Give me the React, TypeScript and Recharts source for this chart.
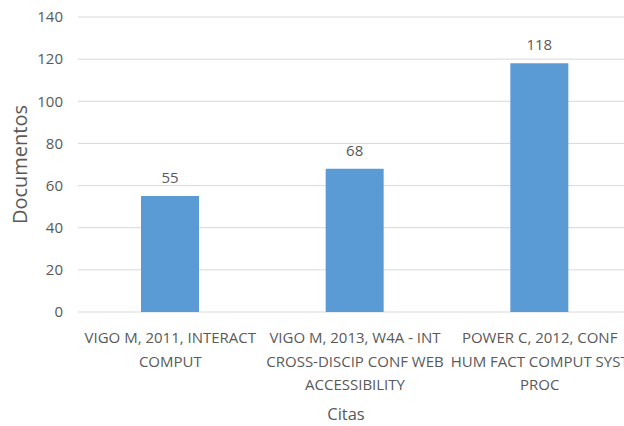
import { Bar, BarChart, CartesianGrid, LabelList, XAxis, YAxis } from "recharts";

const categories = ["VIGO M, 2011, INTERACT COMPUT", "VIGO M, 2013, W4A - INT CROSS-DISCIP CONF WEB ACCESSIBILITY", "POWER C, 2012, CONF HUM FACT COMPUT SYST PROC"];
const categoryLines = [
  ["VIGO M, 2011, INTERACT", "COMPUT"],
  ["VIGO M, 2013, W4A - INT", "CROSS-DISCIP CONF WEB", "ACCESSIBILITY"],
  ["POWER C, 2012, CONF", "HUM FACT COMPUT SYST", "PROC"],
];
const documentos = [55, 68, 118];
const yTicks = [0, 20, 40, 60, 80, 100, 120, 140];

const data = categories.map((c, i) => ({ name: c, documentos: documentos[i] }));

const FONT = "'Open Sans', sans-serif";
const GREY = "#595959";

function CategoryTick(props: any) {
  const { x, y, index } = props;
  const lines = categoryLines[index] || [];
  return (
    <g>
      {lines.map((line, i) => (
        <text
          key={i}
          x={x}
          y={y + 17 + i * 23.5}
          textAnchor="middle"
          dominantBaseline="central"
          fill={GREY}
          fontSize={15}
          fontFamily={FONT}
        >
          {line}
        </text>
      ))}
    </g>
  );
}

export default function App() {
  return (
    <div style={{ position: "absolute", left: 0, top: 0, width: 624, height: 426, overflow: "hidden" }}>
      <BarChart
        width={648}
        height={426}
        data={data}
        margin={{ top: 17, right: 16, bottom: 0, left: 0 }}
        style={{ fontFamily: FONT }}
      >
        <CartesianGrid vertical={false} stroke="#d9d9d9" />
        <XAxis
          dataKey="name"
          axisLine={false}
          tickLine={false}
          height={114}
          interval={0}
          tick={<CategoryTick />}
          label={{ value: "Citas", position: "insideBottom", offset: 6, dx: -9, fill: GREY, fontSize: 16.5, fontFamily: FONT }}
        />
        <YAxis
          domain={[0, 140]}
          ticks={yTicks}
          axisLine={false}
          tickLine={false}
          tickSize={0}
          tickMargin={15}
          width={78}
          tick={{ fill: GREY, fontSize: 15, fontFamily: FONT }}
          label={{ value: "Documentos", angle: -90, position: "insideLeft", offset: 20, fill: GREY, fontSize: 20, fontFamily: FONT, style: { textAnchor: "middle" } }}
        />
        <Bar dataKey="documentos" fill="#5B9BD5" barSize={58} isAnimationActive={false}>
          <LabelList dataKey="documentos" position="top" offset={13} fill={GREY} fontSize={15} fontFamily={FONT} />
        </Bar>
      </BarChart>
    </div>
  );
}
